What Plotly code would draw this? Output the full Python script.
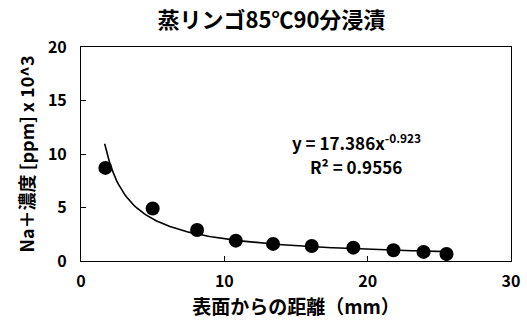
import numpy as np
import plotly.graph_objects as go

# Data
distance_mm = [1.7, 5.0, 8.1, 10.8, 13.4, 16.1, 19.0, 21.8, 23.9, 25.5]
na_conc = [8.7, 4.9, 2.9, 1.9, 1.6, 1.4, 1.25, 1.0, 0.85, 0.65]

# Power trendline shown on the chart: y = 17.386 x^-0.923
coef_a = 17.386
coef_b = -0.923
r2_text = "0.9556"

title_text = "蒸リンゴ85℃90分浸漬"
x_title = "表面からの距離（mm）"
y_title = "Na＋濃度 [ppm] x 10^3"

FONT = "Noto Sans CJK JP"

trend_x = np.linspace(min(distance_mm) - 0.05, max(distance_mm), 200)
trend_y = coef_a * trend_x ** coef_b

fig = go.Figure()
fig.add_trace(go.Scatter(x=trend_x, y=trend_y, mode="lines",
                         line=dict(color="black", width=1.6),
                         hoverinfo="skip", showlegend=False))
fig.add_trace(go.Scatter(x=distance_mm, y=na_conc, mode="markers",
                         marker=dict(color="black", size=14),
                         showlegend=False))

fig.add_annotation(x=19.2, y=11.1, xref="x", yref="y", showarrow=False,
                   text=f"y = {coef_a}x<sup>{coef_b}</sup>",
                   font=dict(family=FONT, size=17, color="black", weight="bold"))
fig.add_annotation(x=19.2, y=8.8, xref="x", yref="y", showarrow=False,
                   text=f"R² = {r2_text}",
                   font=dict(family=FONT, size=17, color="black", weight="bold"))

fig.update_layout(
    width=527, height=331,
    margin=dict(l=81, r=16, t=47, b=70, autoexpand=False),
    paper_bgcolor="white", plot_bgcolor="white",
    title=dict(text=title_text, x=0.515, xanchor="center", y=0.94, yanchor="middle",
               font=dict(family=FONT, size=22, color="black", weight="bold")),
    font=dict(family=FONT, color="black"),
)
fig.update_xaxes(range=[0, 30], dtick=10, ticks="inside", ticklen=5, tickcolor="black",
                 showline=True, linecolor="black", linewidth=1, mirror=True,
                 showgrid=False, zeroline=False, automargin=False, ticklabelstandoff=6,
                 tickfont=dict(family=FONT, size=16, color="black", weight="bold"),
                 title=dict(text=x_title, standoff=4,
                            font=dict(family=FONT, size=19, color="black", weight="bold")))
fig.update_yaxes(range=[0, 20], dtick=5, ticks="inside", ticklen=5, tickcolor="black",
                 showline=True, linecolor="black", linewidth=1, mirror=True,
                 showgrid=False, zeroline=False, automargin=False, ticklabelstandoff=10,
                 tickfont=dict(family=FONT, size=16, color="black", weight="bold"),
                 title=dict(text=y_title, standoff=8,
                            font=dict(family=FONT, size=18, color="black", weight="bold")))

fig.write_html("out.html",
               config={"displayModeBar": False},
               post_script="document.body.style.margin='0';document.body.style.overflow='hidden';")
